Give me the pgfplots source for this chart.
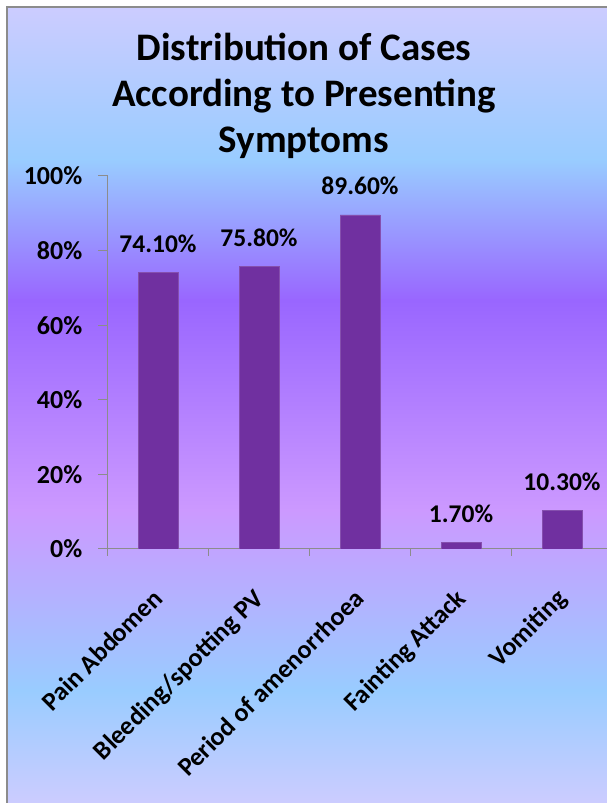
\documentclass[border=0pt]{standalone}
\usepackage{fontspec}
\setmainfont{Carlito}
\usepackage{pgfplots}
\pgfplotsset{compat=1.18}
\definecolor{barpurple}{HTML}{7030A0}
\definecolor{bglav}{HTML}{CCCCFF}
\definecolor{bgblue}{HTML}{99CCFF}
\definecolor{bgpurple}{HTML}{9966FF}
\definecolor{bglilac}{HTML}{CC99FF}
\definecolor{framegray}{HTML}{8C8C8C}
\definecolor{axisgray}{HTML}{8C8C8C}

\begin{document}
\begin{tikzpicture}[x=1pt,y=1pt]
  \clip (0,0) rectangle (607,803);
  \fill[white] (0,0) rectangle (607,803);
  % chart area gradient, top to bottom
  \shade[top color=bglav,    bottom color=bgblue]   (7,796) rectangle (620,642.5);
  \shade[top color=bgblue,   bottom color=bgpurple] (7,643)   rectangle (620,502.5);
  \shade[top color=bgpurple, bottom color=bglilac]  (7,503)   rectangle (620,292.5);
  \shade[top color=bglilac,  bottom color=bgblue]   (7,293)   rectangle (620,112.5);
  \shade[top color=bgblue,   bottom color=bglav]    (7,113)   rectangle (620,0);
  \draw[framegray, line width=2pt] (7,0) -- (7,796) -- (620,796);

  \node[font=\bfseries\fontsize{39}{46}\selectfont, align=center]
    at (304,707) {Distribution of Cases\\According to Presenting\\Symptoms};

  \begin{axis}[
    at={(107.5pt,254pt)}, anchor=south west,
    scale only axis, width=505pt, height=373pt,
    axis lines*=left,
    axis line style={axisgray, line width=1pt},
    xmin=-0.5, xmax=4.5, ymin=0, ymax=100,
    ytick={0,20,...,100},
    yticklabel={\pgfmathprintnumber{\tick}\%},
    xtick={0,...,4},
    xticklabels={Pain Abdomen, Bleeding/spotting PV, Period of amenorrhoea, Fainting Attack, Vomiting},
    minor xtick={-0.5,0.5,...,4.5},
    major x tick style={draw=none},
    tick style={axisgray, line width=1pt},
    tick align=outside,
    major tick length=9pt, minor tick length=7pt,
    /pgf/number format/assume math mode=true,
    ticklabel style={font=\bfseries\fontsize{26}{30}\selectfont},
    yticklabel style={inner sep=0pt, xshift=-16pt},
    xticklabel style={inner sep=0pt, xshift=-7pt, yshift=-29pt, rotate=45, anchor=north east},
    ybar, bar width=40pt,
    nodes near coords={\pgfmathprintnumber[fixed,fixed zerofill,precision=2]{\pgfplotspointmeta}\%},
    every node near coord/.style={font=\bfseries\fontsize{25.5}{30}\selectfont, anchor=base, inner sep=0pt, yshift=20pt},
  ]
    \addplot[fill=barpurple, draw=barpurple!85!white] coordinates {
      (0,74.1) (1,75.8) (2,89.6) (3,1.7) (4,10.3)
    };
  \end{axis}
\end{tikzpicture}
\end{document}
